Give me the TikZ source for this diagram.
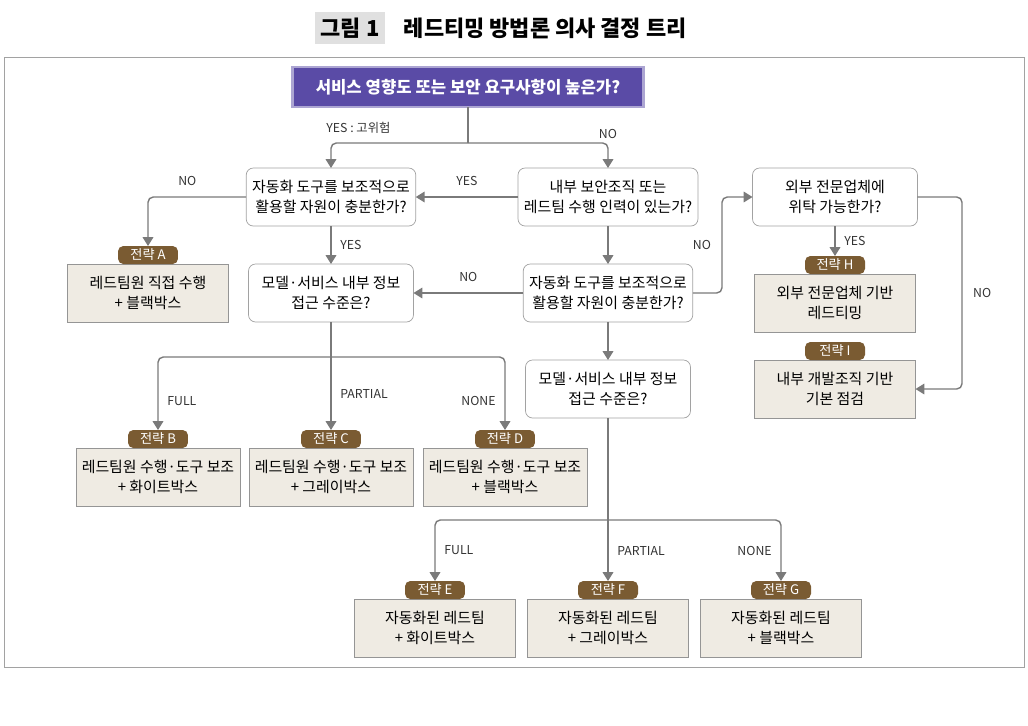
\documentclass[tikz,border=0pt]{standalone}
\usepackage{fontspec}
\setmainfont{Noto Sans CJK KR}
\usetikzlibrary{positioning,arrows.meta}
\definecolor{qpurple}{HTML}{5A4BA6}
\definecolor{tabbrown}{HTML}{7A5B32}
\definecolor{boxfill}{HTML}{EFEBE3}
\definecolor{linegray}{HTML}{7A7A7A}
\begin{document}
\begin{tikzpicture}[x=0.02cm,y=-0.02cm,every node/.style={outer sep=0pt},
 quest/.style={draw=linegray!70,fill=white,rounded corners=4pt,minimum width=3.3cm,minimum height=1.16cm,align=center,font=\fontsize{8.5}{11}\selectfont},
 strat/.style={draw=linegray!80,fill=boxfill,minimum width=3.22cm,minimum height=1.16cm,align=center,font=\fontsize{8.5}{11}\selectfont},
 tab/.style={fill=tabbrown,text=white,rounded corners=3pt,minimum width=1.2cm,minimum height=0.36cm,inner sep=0pt,font=\fontsize{7.5}{9}\selectfont},
 link/.style={draw=linegray,thick,rounded corners=3pt,-{Triangle[width=6pt,length=5pt]}},
 lbl/.style={font=\fontsize{7}{9}\selectfont,text=black!80}]
\useasboundingbox (0,0) rectangle (1028,725);
% title
\node[fill=black!12,font=\fontsize{12.5}{14}\bfseries\selectfont,minimum height=0.56cm] (fig) at (350,28) {그림 1};
\node[font=\fontsize{12.5}{14}\bfseries\selectfont,anchor=west] (title) at (398,28) {레드티밍 방법론 의사 결정 트리};
\draw[linegray!70] (4,57) rectangle (1024,667);

% questions
\node[fill=qpurple,draw=qpurple!50,line width=1.5pt,text=white,minimum width=7.02cm,minimum height=0.8cm,font=\fontsize{9.5}{11}\bfseries\selectfont] (q0) at (468,87) {서비스 영향도 또는 보안 요구사항이 높은가?};
\node[quest] (q1) at (331,197) {자동화 도구를 보조적으로\\활용할 자원이 충분한가?};
\node[quest] (q2) at (608,197) {내부 보안조직 또는\\레드팀 수행 인력이 있는가?};
\node[quest] (q3) at (835,197) {외부 전문업체에\\위탁 가능한가?};
\node[quest] (q4) at (331,293) {모델·서비스 내부 정보\\접근 수준은?};
\node[quest] (q5) at (608,293) {자동화 도구를 보조적으로\\활용할 자원이 충분한가?};
\node[quest] (q6) at (608,389) {모델·서비스 내부 정보\\접근 수준은?};

% strategies
\node[strat] (sa) at (148,293) {레드팀원 직접 수행\\+ 블랙박스};
\node[tab,above=0pt of sa] (ta) {전략 A};
\node[strat] (sh) at (835,303) {외부 전문업체 기반\\레드티밍};
\node[tab,above=0pt of sh] (th) {전략 H};
\node[strat] (si) at (835,389) {내부 개발조직 기반\\기본 점검};
\node[tab,above=0pt of si] (ti) {전략 I};
\node[strat] (sb) at (158,477) {레드팀원 수행·도구 보조\\+ 화이트박스};
\node[tab,above=0pt of sb] (tb) {전략 B};
\node[strat] (sc) at (331,477) {레드팀원 수행·도구 보조\\+ 그레이박스};
\node[tab,above=0pt of sc] (tc) {전략 C};
\node[strat] (sd) at (505,477) {레드팀원 수행·도구 보조\\+ 블랙박스};
\node[tab,above=0pt of sd] (td) {전략 D};
\node[strat] (se) at (435,628) {자동화된 레드팀\\+ 화이트박스};
\node[tab,above=0pt of se] (te) {전략 E};
\node[strat] (sf) at (608,628) {자동화된 레드팀\\+ 그레이박스};
\node[tab,above=0pt of sf] (tf) {전략 F};
\node[strat] (sg) at (781,628) {자동화된 레드팀\\+ 블랙박스};
\node[tab,above=0pt of sg] (tg) {전략 G};

% connectors
\coordinate (s0) at (468,143);
\draw[linegray,thick] (q0) -- (s0);
\draw[link] (s0) -| (q1) node[lbl,pos=0.4,above=2pt] {YES : 고위험};
\draw[link] (s0) -| (q2) node[lbl,pos=0.6,above=2pt] {NO};
\draw[link] (q2) -- (q1) node[lbl,midway,above=3pt] {YES};
\draw[link] (q1) -| (ta) node[lbl,pos=0.3,above=3pt] {NO};
\draw[link] (q1) -- (q4) node[lbl,midway,right=2pt] {YES};
\draw[link] (q2) -- (q5);
\draw[link] (q5) -- (q4) node[lbl,midway,above=3pt] {NO};
\coordinate (r5) at (722,293);
\draw[link] (q5.east) -- (r5) |- (q3) node[lbl,pos=0.25,left=3pt] {NO};
\draw[link] (q3) -- (th) node[lbl,midway,right=2pt] {YES};
\coordinate (r3) at (962,197);
\draw[link] (q3.east) -- (r3) |- (si) node[lbl,pos=0.25,right=3pt] {NO};
\draw[link] (q5) -- (q6);
\coordinate (s4) at (331,357);
\draw[linegray,thick] (q4) -- (s4);
\draw[link] (s4) -| (tb) node[lbl,pos=0.8,right=2pt] {FULL};
\draw[link] (s4) -- (tc) node[lbl,midway,right=2pt] {PARTIAL};
\draw[link] (s4) -| (td) node[lbl,pos=0.8,left=2pt] {NONE};
\coordinate (s6) at (608,520);
\draw[linegray,thick] (q6) -- (s6);
\draw[link] (s6) -| (te) node[lbl,pos=0.75,right=2pt] {FULL};
\draw[link] (s6) -- (tf) node[lbl,midway,right=2pt] {PARTIAL};
\draw[link] (s6) -| (tg) node[lbl,pos=0.75,left=2pt] {NONE};
\end{tikzpicture}
\end{document}
